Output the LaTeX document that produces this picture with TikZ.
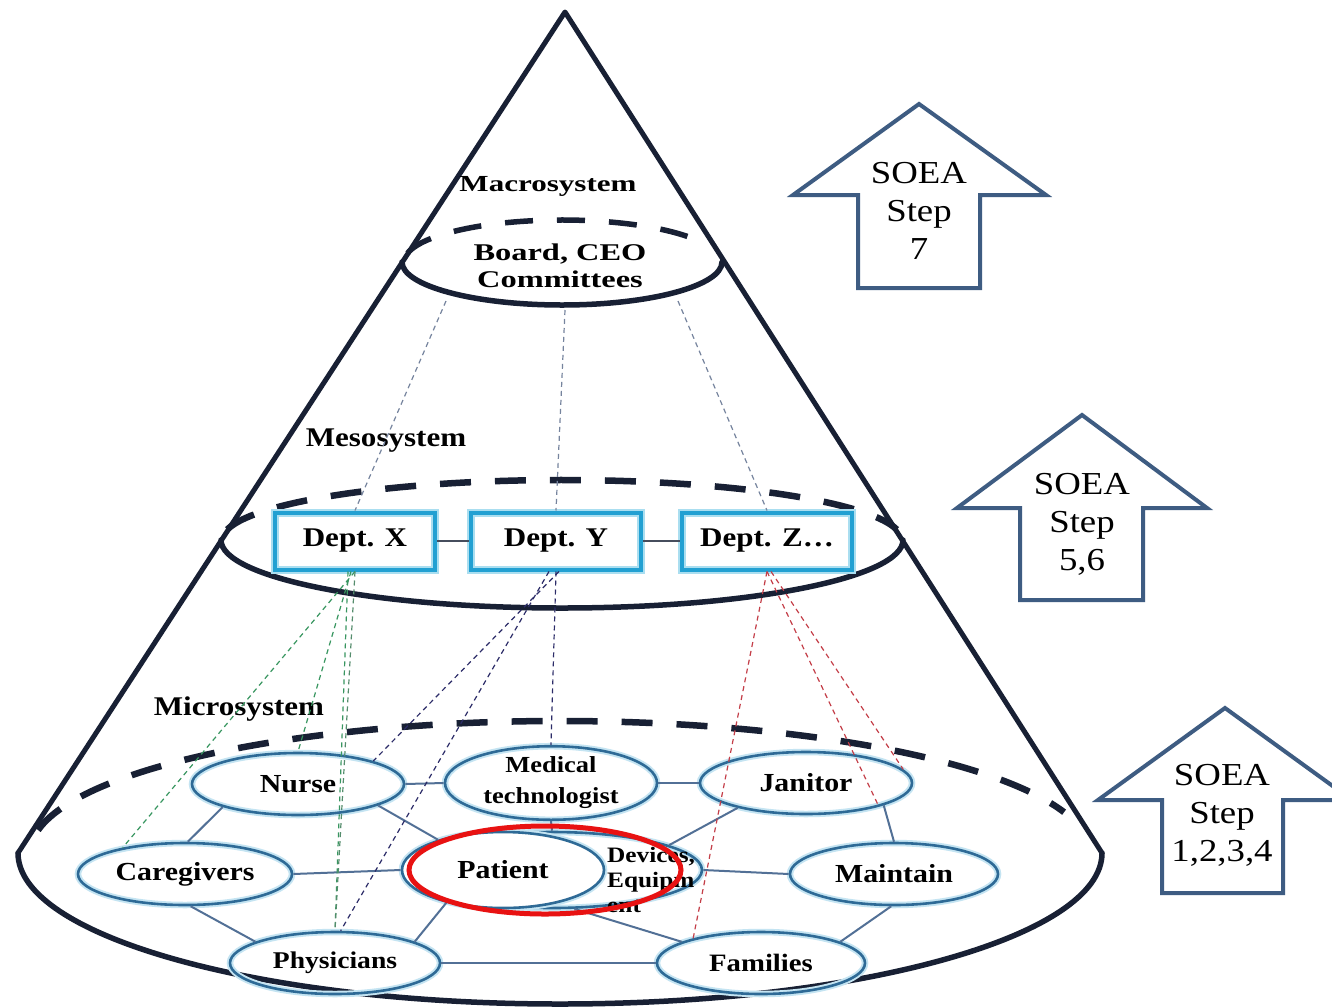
\documentclass[tikz,border=0pt]{standalone}
\usepackage{fontspec}
\setmainfont{Liberation Serif}[FakeStretch=1.15]
\newfontfamily\widefont{Liberation Serif}[FakeStretch=1.35]
\usetikzlibrary{shapes.geometric}

\definecolor{ink}{RGB}{24,32,52}
\definecolor{nodeblue}{RGB}{46,106,150}
\definecolor{halo}{RGB}{196,228,242}
\definecolor{deptcyan}{RGB}{34,160,210}
\definecolor{deepglow}{RGB}{170,222,240}
\definecolor{linkblue}{RGB}{82,112,150}
\definecolor{arrowblue}{RGB}{62,92,130}
\definecolor{tiegray}{RGB}{118,132,158}
\definecolor{tiegreen}{RGB}{56,150,96}
\definecolor{tienavy}{RGB}{44,44,104}
\definecolor{tiered}{RGB}{196,62,72}
\definecolor{focusred}{RGB}{232,18,18}

\begin{document}
\begin{tikzpicture}[x=1pt,y=-1pt,
  conestroke/.style={draw=ink, line width=5pt, line cap=round, line join=round},
  rim/.style={draw=ink, line width=6.5pt, dash pattern=on 31pt off 24pt},
  syslabel/.style={inner sep=0pt, font=\fontsize{27}{27}\selectfont\bfseries},
  unit/.style={ellipse, draw=nodeblue, line width=2.6pt, inner sep=0pt,
    minimum width=212pt, minimum height=62pt,
    preaction={draw=halo, line width=6.5pt},
    font=\fontsize{26}{26}\selectfont\bfseries},
  dept/.style={rectangle, draw=deptcyan, line width=4pt, inner sep=0pt,
    minimum width=160pt, minimum height=57pt,
    preaction={draw=deepglow, line width=8pt},
    font=\fontsize{27}{27}\selectfont\bfseries},
  link/.style={draw=linkblue, line width=2pt},
  tie/.style={line width=1.2pt, dash pattern=on 5pt off 4pt},
  stepshape/.style={draw=arrowblue, line width=4pt, line join=miter, fill=white},
  soea/.style={align=center, inner sep=0pt, font=\fontsize{32}{38}\selectfont}
]
\useasboundingbox (0,0) rectangle (1332,1007);
\fill[white] (0,0) rectangle (1332,1007);

% ---- cone outline and the three level rims ----
\draw[conestroke] (18,853) -- (565,12) -- (1102,853);
\draw[conestroke, line width=5.5pt] (402,262) arc[start angle=180, end angle=0, x radius=160, y radius=43];
\draw[conestroke, line width=5.5pt] (221,540) arc[start angle=180, end angle=0, x radius=341, y radius=68];
\draw[conestroke, line width=5.5pt] (18,853) arc[start angle=180, end angle=0, x radius=542, y radius=151];

\draw[rim, line width=5.5pt, dash pattern=on 28pt off 24pt]
  (562,262) ++(192:158 and 42) arc[start angle=192, end angle=335, x radius=158, y radius=42];
\draw[rim] (562,540) ++(190:340 and 60) arc[start angle=190, end angle=350, x radius=340, y radius=60];
\draw[rim] (560,853) ++(190:530 and 132) arc[start angle=190, end angle=342, x radius=530, y radius=132];

% ---- level labels ----
\node[syslabel, font=\fontsize{23}{23}\selectfont\bfseries\widefont] (macro) at (548,186) {Macrosystem};
\node[syslabel] (meso) at (386,441) {Mesosystem};
\node[syslabel] (micro) at (239,709) {Microsystem};
\node[syslabel, align=center, font=\fontsize{24}{27}\selectfont\bfseries\widefont] (board) at (560,266) {Board, CEO\\Committees};

% anchor points on the board rim
\coordinate (bl) at (446,301);
\coordinate (bm) at (565,310);
\coordinate (br) at (678,301);

% ---- departments ----
\node[dept] (deptx) at (355,541) {Dept. X};
\node[dept, minimum width=170pt] (depty) at (556,541) {Dept. Y};
\node[dept, minimum width=170pt] (deptz) at (767,541) {Dept. Z\ldots};
\draw[link, draw=ink!80, line width=2.5pt] (deptx.east) -- (depty.west);
\draw[link, draw=ink!80, line width=2.5pt] (depty.east) -- (deptz.west);

% ---- microsystem units ----
\node[unit] (nurse) at (298,784) {Nurse};
\node[unit, align=center, font=\fontsize{23}{31}\selectfont\bfseries] (medtech) at (551,783) {Medical\\technologist};
\node[unit] (janitor) at (806,783) {Janitor};
\node[unit, minimum width=214pt] (care) at (185,874) {Caregivers};
\node[unit, minimum width=300pt, minimum height=76pt] (devices) at (552,870) {};
\node[unit, minimum width=202pt, minimum height=76pt, fill=white] (patient) at (503,870) {Patient};
\node[anchor=west, align=left, inner sep=0pt, font=\fontsize{22}{25}\selectfont\bfseries] (devtext) at (607,880) {Devices,\\Equipm\\ent};
\node[unit, minimum width=208pt] (maintain) at (894,874) {Maintain};
\node[unit, minimum width=210pt, font=\fontsize{24}{24}\selectfont\bfseries] (phys) at (335,963) {Physicians};
\node[unit, minimum width=208pt, font=\fontsize{25}{25}\selectfont\bfseries] (families) at (761,963) {Families};

% ---- links between units ----
\draw[link] (nurse.east) -- (medtech.west);
\draw[link] (medtech.east) -- (janitor.west);
\draw[link] (nurse.197) -- (care.85);
\draw[link] (nurse.-15) -- (patient.155);
\draw[link] (medtech.south) -- (devices.north);
\draw[link] (janitor.200) -- (devices.12);
\draw[link] (janitor.-16) -- (maintain.north);
\draw[link] (care.east) -- (patient.west);
\draw[link] (devices.east) -- (maintain.west);
\draw[link] (care.-80) -- (phys.165);
\draw[link] (patient.210) -- (phys.15);
\draw[link] (devices.-60) -- (families.165);
\draw[link] (phys.east) -- (families.west);
\draw[link] (maintain.-95) -- (families.15);

% ---- dashed reporting ties ----
\draw[tie, draw=tiegray] (bl) -- (deptx.north);
\draw[tie, draw=tiegray] (bm) -- (depty.north);
\draw[tie, draw=tiegray] (br) -- (deptz.north);

\draw[tie, draw=tiegreen] (deptx.south) -- (care.157);
\draw[tie, draw=tiegreen] ([xshift=-4pt]deptx.south) -- (nurse.north);
\draw[tie, draw=tiegreen] ([xshift=-7pt]deptx.south) -- (phys.north);
\draw[tie, draw=tiegreen!60!gray] (deptx.south) -- (phys.north);

\draw[tie, draw=tienavy] ([xshift=3pt]depty.south) -- (nurse.17);
\draw[tie, draw=tienavy] ([xshift=-7pt]depty.south) -- (phys.80);
\draw[tie, draw=tienavy] (depty.south) -- (medtech.north);

\draw[tie, draw=tiered] (deptz.south) -- (families.160);
\draw[tie, draw=tiered] (deptz.south) -- (janitor.-18);
\draw[tie, draw=tiered] ([xshift=4pt]deptz.south) -- (janitor.8);

% ---- focus ring ----
\node[ellipse, draw=focusred, line width=5pt, inner sep=0pt,
  minimum width=272pt, minimum height=88pt] (focus) at (545,870) {};

% ---- SOEA step arrows ----
\draw[stepshape] (919,104) -- (1046,195) -- (980,195) -- (980,288) -- (858,288) -- (858,195) -- (793,195) -- cycle;
\node[soea] (soea7) at (919,211) {SOEA\\Step\\7};

\draw[stepshape] (1082,415) -- (1207,508) -- (1143,508) -- (1143,600) -- (1020,600) -- (1020,508) -- (957,508) -- cycle;
\node[soea] (soea56) at (1082,524) {SOEA\\Step\\5,6};

\draw[stepshape] (1225,708) -- (1352,800) -- (1283,800) -- (1283,893) -- (1162,893) -- (1162,800) -- (1098,800) -- cycle;
\node[soea] (soea14) at (1222,815) {SOEA\\Step\\1,2,3,4};
\end{tikzpicture}
\end{document}
